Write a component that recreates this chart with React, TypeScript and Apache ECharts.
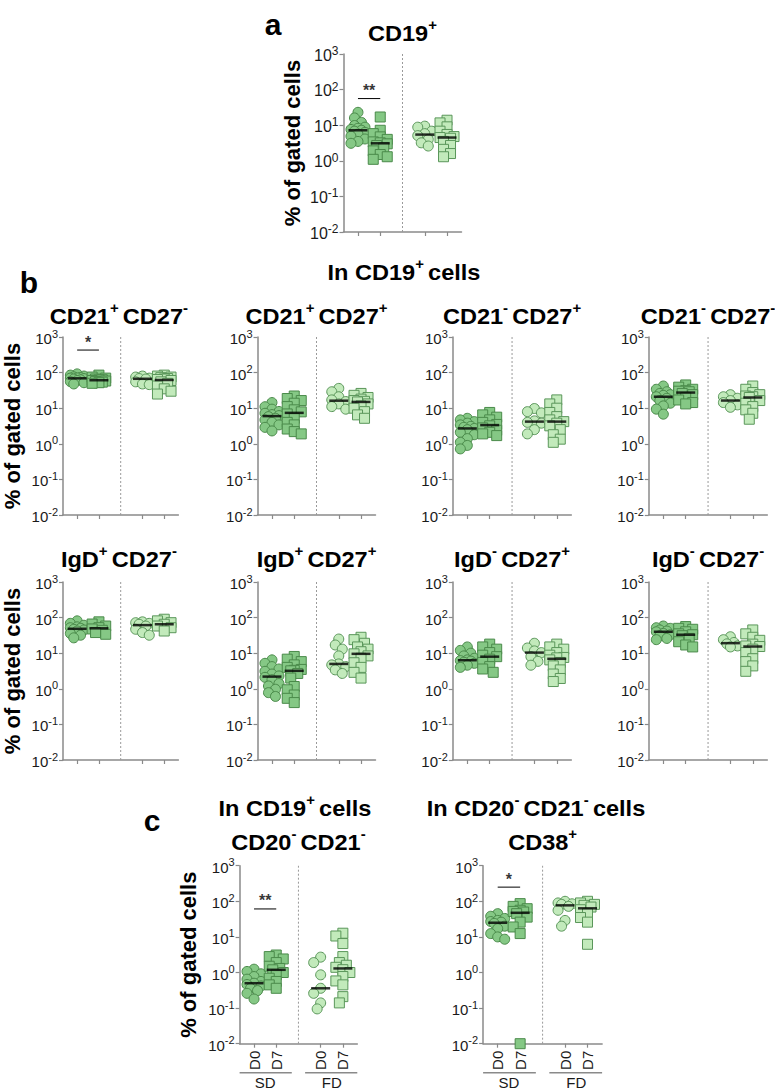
import React, { useEffect, useRef } from 'react';
import * as echarts from 'echarts';

const FONT = '"Liberation Sans", Arial, Helvetica, sans-serif';
const W = 775;
const H = 1091;

// ---------- categories / ticks ----------
const groupPositions = [1, 2, 4, 5]; // SD D0, SD D7, FD D0, FD D7
const groupShapes = ['circle', 'rect', 'circle', 'rect'];
const dayLabels = ['D0', 'D7', 'D0', 'D7'];
const cohortLabels = ['SD', 'FD'];
const cohortCenters = [1.5, 4.5];
const cohortSpans = [[0.35, 2.7], [3.3, 5.65]];
const dividerPosition = 3;
const yTickValues = [0.01, 0.1, 1, 10, 100, 1000];
const X_MIN = 0.35;
const X_MAX = 5.65;

// ---------- data (% of gated cells) : [SD D0, SD D7, FD D0, FD D7] ----------
const cd19 = [
  [23, 16, 12, 9.8, 8.8, 8.2, 7.6, 7.2, 6.8, 6.3, 5.6, 4.9, 4.1, 3.5, 3.1],
  [17, 7.2, 5.8, 4.7, 4.0, 3.4, 3.2, 3.0, 2.7, 2.3, 1.9, 1.5, 1.3, 1.1],
  [9.4, 8.8, 6.8, 5.8, 5.1, 4.0, 3.2, 2.6],
  [13.8, 11.6, 9, 6.8, 5.5, 4.8, 4.5, 4.3, 3.5, 2.7, 2.1, 1.6, 1.3],
];
const cd21pCd27n = [
  [92, 85, 80, 76, 73, 71, 70, 68, 66, 63, 60, 56, 52, 48],
  [85, 75, 70, 66, 63, 62, 60, 58, 56, 54, 52, 50],
  [80, 75, 70, 68, 66, 55, 48, 46],
  [85, 80, 75, 72, 68, 66, 64, 60, 55, 50, 42, 35, 30, 25],
];
const cd21pCd27p = [
  [14.4, 11, 9.4, 8.1, 7.2, 6.6, 6.2, 5.8, 5.2, 4.7, 4.0, 3.4, 2.9, 2.3],
  [22, 18.7, 16.4, 13.8, 11.1, 9, 7.9, 6.9, 5.2, 4.0, 3.4, 2.6, 2.2, 1.9],
  [36, 29, 21, 17.1, 15.4, 13.2, 11.1, 9.4],
  [26, 23, 20, 18, 16.4, 15.6, 15, 13.2, 11.6, 10, 8, 6.5, 5.2],
];
const cd21nCd27p = [
  [5.2, 4.7, 4.2, 3.8, 3.4, 3.1, 2.9, 2.7, 2.5, 2.1, 1.8, 1.4, 1.1, 0.9, 0.72],
  [7.6, 6.5, 5.6, 4.7, 4.0, 3.5, 3.2, 2.8, 2.4, 2.1, 1.9, 1.7],
  [9.8, 8.0, 7.4, 4.4, 4.0, 3.8, 2.5, 1.9],
  [17.1, 13.2, 10, 7.6, 5.8, 4.7, 4.2, 3.8, 3.2, 2.5, 1.8, 1.35, 1.1],
];
const cd21nCd27n = [
  [42, 34, 29, 26, 24, 23, 21, 19, 16.4, 13.8, 11.6, 9.4, 6.8],
  [45, 39, 34, 31, 30, 29, 26, 24, 20, 17, 14.4, 13.2],
  [24, 21, 19, 16.4, 14.4, 12.4, 10.6],
  [42, 34, 27.5, 24, 22, 21, 20, 16.4, 13.8, 11.1, 9, 7.2, 4.9],
];
const igdpCd27n = [
  [81, 69, 61, 55, 52, 50, 47, 45, 42, 36, 32, 27],
  [76, 66, 58, 52, 48, 44, 38, 34],
  [76, 72, 69, 65, 58, 47, 38, 32],
  [90, 81, 72, 65, 58, 52, 42],
];
const igdpCd27p = [
  [6.5, 5.2, 4.2, 3.6, 3.1, 2.6, 2.3, 2.1, 1.8, 1.4, 1.2, 0.97, 0.78, 0.61],
  [8.1, 6.8, 5.8, 4.7, 4.0, 3.5, 3.3, 3.2, 2.7, 2.0, 1.16, 0.94, 0.67, 0.54, 0.41],
  [25, 17, 13, 8.4, 5.0, 4.7, 4.2, 3.4, 2.7],
  [28, 24, 19, 15, 13, 11, 9.6, 8.4, 7.2, 5.4, 4.0, 2.9, 2.0],
];
const igdnCd27p = [
  [15, 12, 10, 8.4, 7.2, 6.5, 6.2, 6, 5.6, 5.2, 4.6, 4.0],
  [18, 15, 13, 10.4, 8.8, 8, 6.8, 5.5, 4.2, 3.6, 2.9],
  [19, 14, 11.6, 10.4, 8, 5.9, 4.6],
  [18, 15, 13, 10.4, 8.8, 7.6, 7.4, 6.5, 5.5, 4.4, 3.4, 2.6, 1.95, 1.6],
];
const igdnCd27n = [
  [58, 52, 50, 45, 42, 40, 36, 33, 31, 26, 24],
  [56, 50, 47, 40, 35, 33, 31, 26, 21, 17, 15],
  [29, 24, 20, 18.3, 16, 15],
  [45, 35, 28, 23, 18, 16, 15.4, 13, 10.4, 7, 5.8, 4.4, 3.1],
];
const cd20nCd21n = [
  [1.24, 1.07, 0.92, 0.77, 0.65, 0.56, 0.5, 0.46, 0.42, 0.36, 0.31, 0.26, 0.18],
  [3.1, 2.8, 2.4, 1.9, 1.5, 1.3, 1.19, 1.0, 0.86, 0.69, 0.56, 0.45, 0.36],
  [2.7, 1.9, 0.86, 0.36, 0.26, 0.14, 0.095],
  [12.7, 10.6, 6.5, 2.8, 1.9, 1.6, 1.4, 1.2, 1.0, 0.77, 0.58, 0.45, 0.21, 0.14],
];
const cd38p = [
  [45, 38, 33, 29, 27, 26, 24, 20, 17, 12.4, 10, 8.6],
  [86, 72, 62, 56, 52, 50, 45, 36, 26, 19, 12.4, 0.01],
  [100, 90, 85, 82, 72, 56, 29, 20],
  [100, 90, 82, 77, 69, 58, 45, 35, 26, 6.2],
];

const panelValues = [
  cd19, cd21pCd27n, cd21pCd27p, cd21nCd27p, cd21nCd27n,
  igdpCd27n, igdpCd27p, igdnCd27p, igdnCd27n, cd20nCd21n, cd38p,
];
// title segments: [text, superscript]
const panelTitles: [string, string][][] = [
  [['CD19', '+']],
  [['CD21', '+'], ['CD27', '-']],
  [['CD21', '+'], ['CD27', '+']],
  [['CD21', '-'], ['CD27', '+']],
  [['CD21', '-'], ['CD27', '-']],
  [['IgD', '+'], ['CD27', '-']],
  [['IgD', '+'], ['CD27', '+']],
  [['IgD', '-'], ['CD27', '+']],
  [['IgD', '-'], ['CD27', '-']],
  [['CD20', '-'], ['CD21', '-']],
  [['CD38', '+']],
];
// significance bar between SD D0 and SD D7
const sigLevels = [56, 430, null, null, null, null, null, null, null, 61, 250];
const sigLabels = ['**', '*', '', '', '', '', '', '', '', '**', '*'];

// ---------- layout ----------
const PLOT_H = 178;
const layout = [
  { left: 343.5, top: 54, width: 118, titleY: 31, yName: true, xLabels: false, tick: 16 },
  { left: 59.4, top: 337, width: 119, titleY: 314, yName: true, xLabels: false, tick: 15 },
  { left: 257.5, top: 337, width: 118, titleY: 314, yName: false, xLabels: false, tick: 15 },
  { left: 452.8, top: 337, width: 118.5, titleY: 314, yName: false, xLabels: false, tick: 15 },
  { left: 648.8, top: 337, width: 118.5, titleY: 314, yName: false, xLabels: false, tick: 15 },
  { left: 59.4, top: 582, width: 119, titleY: 557, yName: true, xLabels: false, tick: 15 },
  { left: 257.5, top: 582, width: 118, titleY: 557, yName: false, xLabels: false, tick: 15 },
  { left: 452.8, top: 582, width: 118.5, titleY: 557, yName: false, xLabels: false, tick: 15 },
  { left: 648.8, top: 582, width: 118.5, titleY: 557, yName: false, xLabels: false, tick: 15 },
  { left: 239.6, top: 865.7, width: 117.7, titleY: 840, yName: true, xLabels: true, tick: 15 },
  { left: 483.1, top: 865.7, width: 119, titleY: 840, yName: false, xLabels: true, tick: 15 },
];
const headers: { segs: [string, string][]; x: number; y: number }[] = [
  { segs: [['In CD19', '+'], ['cells', '']], x: 404, y: 270 },
  { segs: [['In CD19', '+'], ['cells', '']], x: 295, y: 806 },
  { segs: [['In CD20', '-'], ['CD21', '-'], ['cells', '']], x: 536, y: 806 },
];
const letters = [
  { t: 'a', x: 273, y: 24 },
  { t: 'b', x: 29, y: 282 },
  { t: 'c', x: 152, y: 820 },
];

const SD_FILL = '#85c885';
const SD_EDGE = '#4a8a4a';
const FD_FILL = '#c2eabb';
const FD_EDGE = '#5a965a';
const AXIS = '#8a8a8a';
const TITLE_STRETCH = 1.07;

function median(a: number[]) {
  const s = [...a].sort((x, y) => x - y);
  const n = s.length;
  return n % 2 ? s[(n - 1) / 2] : (s[n / 2 - 1] + s[n / 2]) / 2;
}

function swarmOffsets(vals: number[], pxPerUnit: number, pxPerDecade: number): number[] {
  const idx = vals.map((_, i) => i).sort((a, b) => vals[b] - vals[a]);
  const placed: { x: number; y: number }[] = [];
  const out = new Array(vals.length).fill(0);
  const step = 3.5;
  const minDist = 6.5;
  const cands = [0, -1, 1, -2, 2];
  for (const i of idx) {
    const y = -Math.log10(vals[i]) * pxPerDecade;
    let best = 0;
    let bestD = -1;
    for (const c of cands) {
      const x = c * step;
      let d = Infinity;
      for (const p of placed) d = Math.min(d, Math.hypot(p.x - x, p.y - y));
      if (d >= minDist) { best = x; bestD = d; break; }
      if (d > bestD) { bestD = d; best = x; }
    }
    placed.push({ x: best, y });
    out[i] = best / pxPerUnit;
  }
  return out;
}

const titleRich = {
  m: { fontSize: 22, fontWeight: 'bold', fontFamily: FONT, color: '#000', lineHeight: 26, verticalAlign: 'bottom' },
  s: { fontSize: 14, fontWeight: 'bold', fontFamily: FONT, color: '#000', lineHeight: 9, verticalAlign: 'top' },
};

function richText(segs: [string, string][]) {
  return segs
    .map(([m, s], k) => {
      const sep = k < segs.length - 1 ? ' ' : '';
      return s ? `{m|${m}}{s|${s}${sep}}` : `{m|${m}${sep}}`;
    })
    .join('');
}

function buildOption() {
  const grid: any[] = [];
  const xAxis: any[] = [];
  const yAxis: any[] = [];
  const series: any[] = [];
  const yMin = yTickValues[0];
  const yMax = yTickValues[yTickValues.length - 1];
  const decades = Math.log10(yMax) - Math.log10(yMin);

  layout.forEach((L, gi) => {
    grid.push({ left: L.left, top: L.top, width: L.width, height: PLOT_H });
    xAxis.push({
      gridIndex: gi,
      type: 'value',
      min: X_MIN,
      max: X_MAX,
      splitLine: { show: false },
      axisLine: { show: true, onZero: false, lineStyle: { color: AXIS, width: 1.5 } },
      axisTick: { show: true, customValues: groupPositions, length: 4, lineStyle: { color: AXIS, width: 1.2 } },
      axisLabel: {
        show: L.xLabels,
        customValues: groupPositions,
        rotate: 90,
        margin: 7,
        fontSize: 15,
        fontFamily: FONT,
        color: '#1a1a1a',
        formatter: (v: number) => dayLabels[groupPositions.indexOf(Math.round(v))] ?? '',
      },
    });
    yAxis.push({
      gridIndex: gi,
      type: 'log',
      logBase: 10,
      min: yMin,
      max: yMax,
      splitLine: { show: false },
      axisLine: { show: true, onZero: false, lineStyle: { color: AXIS, width: 1.5 } },
      axisTick: { show: true, length: 4, lineStyle: { color: AXIS, width: 1.2 } },
      axisLabel: {
        margin: 5,
        formatter: (v: number) => `{b|10}{s|${Math.round(Math.log10(v))}}`,
        rich: {
          b: { fontSize: L.tick, fontFamily: FONT, color: '#1a1a1a', lineHeight: 18, verticalAlign: 'bottom' },
          s: { fontSize: L.tick - 4, fontFamily: FONT, color: '#1a1a1a', lineHeight: 8, verticalAlign: 'top' },
        },
      },
      name: L.yName ? '% of gated cells' : '',
      nameLocation: 'middle',
      nameGap: 40,
      nameTextStyle: { fontSize: 22, fontWeight: 'bold', fontFamily: FONT, color: '#000' },
    });

    // divider
    series.push({
      type: 'line', xAxisIndex: gi, yAxisIndex: gi, silent: true, symbol: 'none',
      data: [[dividerPosition, yMin], [dividerPosition, yMax]],
      lineStyle: { color: '#9a9a9a', width: 1, type: [2, 2] },
      z: 1,
    });

    const pxPerUnit = L.width / (X_MAX - X_MIN);
    const pxPerDecade = PLOT_H / decades;
    const groups = panelValues[gi];
    groups.forEach((vals, g) => {
      const off = swarmOffsets(vals, pxPerUnit, pxPerDecade);
      const sd = g < 2;
      series.push({
        type: 'scatter', xAxisIndex: gi, yAxisIndex: gi, silent: true,
        symbol: groupShapes[g],
        symbolSize: 10,
        clip: false,
        itemStyle: { color: sd ? SD_FILL : FD_FILL, borderColor: sd ? SD_EDGE : FD_EDGE, borderWidth: 1, opacity: 1 },
        data: vals.map((v, i) => [groupPositions[g] + off[i], v]),
        z: 3,
      });
    });
    // medians
    series.push({
      type: 'scatter', xAxisIndex: gi, yAxisIndex: gi, silent: true,
      symbol: 'rect', symbolSize: [19, 2.5],
      itemStyle: { color: '#000' },
      data: groups.map((vals, g) => [groupPositions[g], median(vals)]),
      z: 5,
    });
    // significance
    const s = sigLevels[gi];
    if (s != null) {
      series.push({
        type: 'line', xAxisIndex: gi, yAxisIndex: gi, silent: true, symbol: 'none',
        data: [[groupPositions[0], s], [groupPositions[1], s]],
        lineStyle: { color: '#000', width: 1 },
        z: 4,
      });
      series.push({
        type: 'scatter', xAxisIndex: gi, yAxisIndex: gi, silent: true,
        symbolSize: 0,
        data: [[(groupPositions[0] + groupPositions[1]) / 2, s]],
        label: {
          show: true, position: 'top', distance: 0, formatter: sigLabels[gi],
          fontSize: 16, fontWeight: 'bold', fontFamily: FONT, color: '#000',
        },
        z: 4,
      });
    }
  });

  return { animation: false, backgroundColor: '#fff', grid, xAxis, yAxis, series };
}

export default function App() {
  const ref = useRef<HTMLDivElement>(null);
  useEffect(() => {
    if (!ref.current) return;
    const chart = echarts.init(ref.current, null, { renderer: 'svg' });
    chart.setOption(buildOption());

    const elements: any[] = [];
    layout.forEach((L, gi) => {
      elements.push({
        type: 'text', x: L.left + L.width / 2, y: L.titleY, scaleX: TITLE_STRETCH,
        style: {
          text: richText(panelTitles[gi]), rich: titleRich,
          align: 'center', verticalAlign: 'middle', textAlign: 'center', textVerticalAlign: 'middle',
        },
      });
      if (L.xLabels) {
        const yMin = yTickValues[0];
        cohortSpans.forEach(([a, b], k) => {
          const p0 = chart.convertToPixel({ gridIndex: gi } as any, [a, yMin]) as number[];
          const p1 = chart.convertToPixel({ gridIndex: gi } as any, [b, yMin]) as number[];
          const pc = chart.convertToPixel({ gridIndex: gi } as any, [cohortCenters[k], yMin]) as number[];
          elements.push({
            type: 'line',
            shape: { x1: p0[0], y1: p0[1] + 29, x2: p1[0], y2: p1[1] + 29 },
            style: { stroke: AXIS, lineWidth: 1.5 },
          });
          elements.push({
            type: 'text', x: pc[0], y: pc[1] + 39,
            style: {
              text: cohortLabels[k], fill: '#1a1a1a', font: `15px ${FONT}`,
              align: 'center', verticalAlign: 'middle', textAlign: 'center', textVerticalAlign: 'middle',
            },
          });
        });
      }
    });
    headers.forEach((h) => {
      elements.push({
        type: 'text', x: h.x, y: h.y, scaleX: TITLE_STRETCH,
        style: {
          text: richText(h.segs), rich: titleRich,
          align: 'center', verticalAlign: 'middle', textAlign: 'center', textVerticalAlign: 'middle',
        },
      });
    });
    letters.forEach((l) => {
      elements.push({
        type: 'text', x: l.x, y: l.y,
        style: {
          text: l.t, fill: '#000', font: `bold 30px ${FONT}`,
          align: 'center', verticalAlign: 'middle', textAlign: 'center', textVerticalAlign: 'middle',
        },
      });
    });
    chart.setOption({ graphic: { elements } });

    return () => chart.dispose();
  }, []);
  return <div ref={ref} style={{ position: 'absolute', left: 0, top: 0, width: W, height: H }} />;
}
